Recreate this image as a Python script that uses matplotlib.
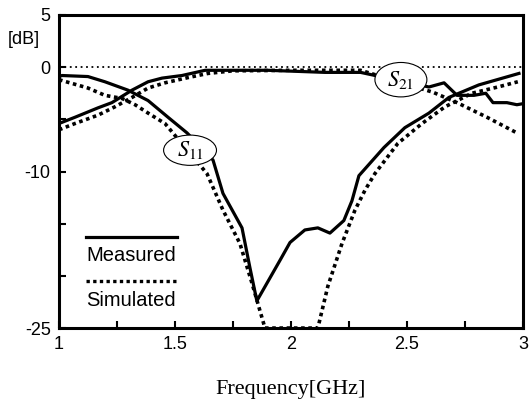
import numpy as np
import matplotlib
matplotlib.use("Agg")
import matplotlib.pyplot as plt
from matplotlib.patches import Ellipse
from matplotlib.lines import Line2D

plt.rcParams['font.family'] = ['Liberation Sans', 'DejaVu Sans']
plt.rcParams['mathtext.fontset'] = 'stix'

# measured S11
f_s11_meas = [1.0, 1.013, 1.125, 1.198, 1.297, 1.384, 1.47, 1.552, 1.664, 1.707,
              1.789, 1.823, 1.853, 1.953, 1.996, 2.06, 2.116, 2.168, 2.228,
              2.263, 2.293, 2.401, 2.491, 2.595, 2.681, 2.81, 2.983]
s11_meas = [-0.9, -0.8, -0.9, -1.4, -2.2, -3.2, -4.8, -6.3, -8.9, -12.1,
            -15.4, -19.2, -22.4, -18.5, -16.8, -15.6, -15.4, -15.9, -14.7,
            -12.8, -10.4, -7.7, -5.8, -4.4, -2.9, -1.7, -0.6]

# measured S21
f_s21_meas = [1.0, 1.069, 1.168, 1.228, 1.315, 1.384, 1.444, 1.53, 1.63, 1.9,
              2.147, 2.3, 2.595, 2.66, 2.716, 2.789, 2.84, 2.871, 2.931, 2.974, 3.0]
s21_meas = [-5.4, -4.8, -3.9, -3.4, -2.2, -1.4, -1.05, -0.8, -0.3, -0.3,
            -0.5, -0.5, -1.9, -1.5, -2.7, -2.7, -2.5, -3.4, -3.4, -3.6, -3.5]

# simulated S11
f_s11_sim = [1.0, 1.125, 1.198, 1.272, 1.328, 1.384, 1.457, 1.638, 1.707,
             1.78, 1.832, 1.888, 2.116, 2.159, 2.22, 2.276, 2.319, 2.362,
             2.461, 2.565, 2.664, 2.78, 2.892, 2.978]
s11_sim = [-1.2, -2.0, -2.7, -3.0, -3.6, -4.4, -5.4, -10.2, -13.7,
           -16.9, -20.7, -25.0, -25.0, -21.0, -16.9, -13.7, -11.8, -10.2,
           -7.3, -5.4, -3.8, -2.5, -1.9, -1.4]

# simulated S21
f_s21_sim = [1.0, 1.069, 1.168, 1.241, 1.315, 1.384, 1.457, 1.556, 1.642, 1.75,
             2.0, 2.3, 2.612, 2.716, 2.845, 2.974]
s21_sim = [-6.0, -5.4, -4.6, -3.8, -2.9, -2.0, -1.5, -1.0, -0.6, -0.35,
           -0.3, -0.3, -2.4, -3.4, -4.8, -6.3]

fig = plt.figure(figsize=(5.29, 4.05), dpi=100)
ax = fig.add_axes([0.1115, 0.19, 0.877, 0.773])

dots = (0, (1.0, 1.0))
ax.axhline(0, color='k', lw=1.3, ls=(0, (1, 2)), zorder=1)
ax.plot(f_s11_meas, s11_meas, color='k', lw=2.3, zorder=3)
ax.plot(f_s21_meas, s21_meas, color='k', lw=2.3, zorder=3)
ax.plot(f_s11_sim, s11_sim, color='k', lw=2.6, ls=dots, zorder=2)
ax.plot(f_s21_sim, s21_sim, color='k', lw=2.6, ls=dots, zorder=2)

# curve labels
for (cx, cy, w, h, txt) in [(1.565, -7.96, 0.228, 2.9, r'$S_{11}$'),
                            (2.474, -1.2, 0.224, 3.3, r'$S_{21}$')]:
    ax.add_patch(Ellipse((cx, cy), w, h, facecolor='white', edgecolor='k',
                         lw=0.8, zorder=4))
    ax.text(cx, cy, txt, ha='center', va='center', fontsize=16, zorder=5)

# legend, line above the text
leg_lines = [('-', 'Measured', 0.291, 0.231), (dots, 'Simulated', 0.150, 0.089)]
for ls, lab, yl, yt in leg_lines:
    ax.add_line(Line2D([0.058, 0.254], [yl, yl], transform=ax.transAxes,
                       color='k', lw=2.3 if ls == '-' else 2.4, ls=ls))
    ax.text(0.058, yt, lab, transform=ax.transAxes, fontsize=14.5,
            ha='left', va='center')

ax.set_xlim(1, 3)
ax.set_ylim(-25, 5)
ax.set_xticks([1, 1.5, 2, 2.5, 3])
ax.set_xticklabels(['1', '1.5', '2', '2.5', '3'])
ax.set_xticks(np.arange(1, 3.01, 0.25), minor=True)
ax.set_yticks([5, 0, -5, -10, -15, -20, -25])
ax.set_yticklabels(['5', '0', '', '-10', '', '', '-25'])
ax.tick_params(direction='in', length=5, width=1.5, labelsize=13, pad=6)
ax.tick_params(which='minor', direction='in', length=5, width=1.5)
for sp in ax.spines.values():
    sp.set_linewidth(2.2)

ax.set_xlabel('Frequency[GHz]', fontsize=16, family='Liberation Serif', labelpad=19)
fig.text(8 / 529, 1 - 40 / 405, '[dB]', fontsize=13, ha='left', va='center')

fig.savefig('out.png', dpi=100)
